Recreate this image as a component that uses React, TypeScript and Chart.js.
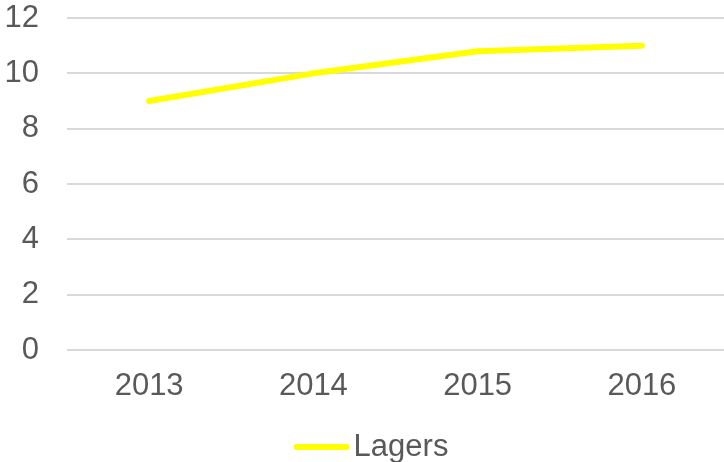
import React, { useEffect, useRef } from "react";
import { Chart, registerables } from "chart.js";

Chart.register(...registerables);

const categories = ["2013", "2014", "2015", "2016"];
const lagers = [9, 10, 10.8, 11];
const yTicks = [0, 2, 4, 6, 8, 10, 12];
const seriesName = "Lagers";

const FONT = "'Liberation Sans', Arial, sans-serif";
const TEXT = "#595959";
const FS = 31;

const legendPlugin = {
  id: "customLegend",
  afterDraw(chart: any) {
    const ctx = chart.ctx;
    const ds = chart.data.datasets[0];
    ctx.save();
    ctx.font = `${FS}px ${FONT}`;
    const tw = ctx.measureText(ds.label).width;
    const lineW = 56;
    const gap = 4;
    const total = lineW + gap + tw;
    const x0 = chart.width / 2 - total / 2 + 9;
    const y = 447;
    ctx.strokeStyle = ds.borderColor;
    ctx.lineWidth = 6;
    ctx.lineCap = "round";
    ctx.beginPath();
    ctx.moveTo(x0 + 3, y);
    ctx.lineTo(x0 + lineW - 3, y);
    ctx.stroke();
    ctx.fillStyle = TEXT;
    ctx.textBaseline = "middle";
    ctx.textAlign = "left";
    ctx.fillText(ds.label, x0 + lineW + gap, y);
    ctx.restore();
  },
};

export default function App() {
  const ref = useRef<HTMLCanvasElement>(null);
  useEffect(() => {
    document.body.style.margin = "0";
    const chart = new Chart(ref.current!, {
      type: "line",
      data: {
        labels: categories,
        datasets: [
          {
            label: seriesName,
            data: lagers,
            borderColor: "#FFFF00",
            backgroundColor: "#FFFF00",
            borderWidth: 6,
            borderCapStyle: "round",
            borderJoinStyle: "round",
            pointRadius: 0,
            tension: 0,
          },
        ],
      },
      options: {
        animation: false,
        responsive: false,
        maintainAspectRatio: false,
        layout: { padding: { top: 18, bottom: 42, right: 0, left: 0 } },
        plugins: { legend: { display: false }, tooltip: { enabled: false } },
        scales: {
          x: {
            offset: true,
            grid: { display: false, drawTicks: false },
            border: { display: false },
            ticks: { color: TEXT, font: { family: FONT, size: FS }, padding: 18 },
            afterFit(scale: any) {
              scale.height = 70;
              scale.paddingLeft = 0;
              scale.paddingRight = 0;
            },
          },
          y: {
            min: 0,
            max: 12,
            afterBuildTicks(scale: any) {
              scale.ticks = yTicks.map((v) => ({ value: v }));
            },
            grid: { color: "#d9d9d9", lineWidth: 2, drawTicks: false },
            border: { display: false },
            ticks: { color: TEXT, font: { family: FONT, size: FS }, padding: 28 },
            afterFit(scale: any) {
              scale.width = 67;
              scale.paddingTop = 0;
              scale.paddingBottom = 0;
            },
          },
        },
      },
      plugins: [legendPlugin],
    } as any);
    return () => chart.destroy();
  }, []);
  return <canvas ref={ref} width={724} height={462} style={{ display: "block" }} />;
}
